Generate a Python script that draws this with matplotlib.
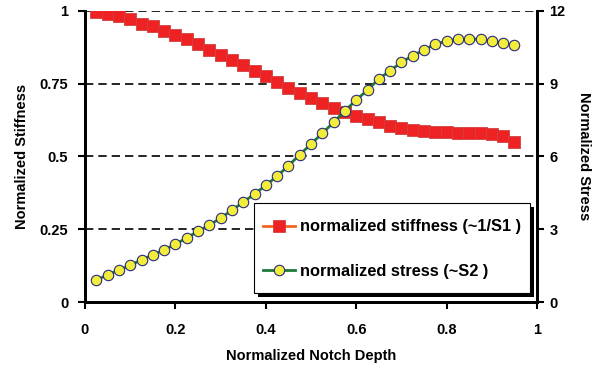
import matplotlib
matplotlib.use("Agg")
import matplotlib.pyplot as plt
from matplotlib.patches import Rectangle

plt.rcParams['font.family'] = ['Liberation Sans', 'DejaVu Sans']
plt.rcParams['font.weight'] = 'bold'

depth = [0.025 * (i + 1) for i in range(38)]
stiffness = [0.995, 0.989, 0.982, 0.970, 0.955, 0.946, 0.931, 0.917, 0.902, 0.885,
             0.865, 0.848, 0.831, 0.813, 0.794, 0.776, 0.756, 0.736, 0.719, 0.700,
             0.684, 0.667, 0.653, 0.640, 0.628, 0.617, 0.605, 0.598, 0.592, 0.587,
             0.584, 0.584, 0.580, 0.580, 0.581, 0.578, 0.570, 0.548]
stress = [0.91, 1.11, 1.32, 1.51, 1.74, 1.94, 2.15, 2.38, 2.64, 2.91,
          3.16, 3.46, 3.78, 4.11, 4.45, 4.81, 5.18, 5.62, 6.06, 6.51,
          6.95, 7.40, 7.88, 8.32, 8.73, 9.19, 9.53, 9.87, 10.15, 10.38,
          10.63, 10.74, 10.83, 10.83, 10.83, 10.74, 10.66, 10.57]

xticks = [0, 0.2, 0.4, 0.6, 0.8, 1]
xticklabels = ['0', '0.2', '0.4', '0.6', '0.8', '1']
lticks = [0, 0.25, 0.5, 0.75, 1]
lticklabels = ['0', '0.25', '0.5', '0.75', '1']
rticks = [0, 3, 6, 9, 12]
rticklabels = ['0', '3', '6', '9', '12']

W, H = 597, 372
fig = plt.figure(figsize=(W/100, H/100), dpi=100)
ax = fig.add_axes([85/W, 1-302/H, (537-85)/W, (302-10.7)/H])
ax2 = ax.twinx()

for y in lticks[1:]:
    ax.axhline(y, color='black', lw=1.2, ls=(0, (5, 3)), zorder=1)

l1, = ax.plot(depth, stiffness, color='#F26522', lw=2, marker='s', ms=8,
              mfc='#EE2222', mec='#D04040', mew=0.6, label='normalized stiffness (~1/S1 )', zorder=3)
l2, = ax2.plot(depth, stress, color='#1A7A3A', lw=2, marker='o', ms=7.5,
               mfc='#F2EC3A', mec='#2A2A80', mew=0.8, label='normalized stress (~S2 )', zorder=3)

ax.set_xlim(0, 1)
ax.set_ylim(0, 1)
ax2.set_ylim(0, 12)
ax.set_xticks(xticks)
ax.set_xticklabels(xticklabels)
ax.set_yticks(lticks)
ax.set_yticklabels(lticklabels)
ax2.set_yticks(rticks)
ax2.set_yticklabels(rticklabels)

for a in (ax, ax2):
    a.spines['top'].set_visible(False)
    for s in a.spines.values():
        s.set_linewidth(2)
    a.tick_params(direction='out', width=1.5, length=5, labelsize=10.5)
ax.tick_params(axis='x', pad=10)
ax.tick_params(axis='y', pad=7)
ax2.tick_params(axis='y', pad=4)

ax.set_xlabel('Normalized Notch Depth', fontsize=10.5, fontweight='bold', labelpad=9)
ax.set_ylabel('Normalized Stiffness', fontsize=10.5, fontweight='bold', labelpad=8)
ax2.set_ylabel('Normalized Stress', fontsize=10.5, fontweight='bold', rotation=270, labelpad=18)

# legend box with solid black drop shadow
bx0, by0, bx1, by1 = 254, 203, 530, 293
shadow = Rectangle(((bx0 + 4)/W, 1 - (by1 + 3.5)/H), (bx1 - bx0)/W, (by1 - by0)/H,
                   transform=fig.transFigure, facecolor='black', edgecolor='none', zorder=5)
frame = Rectangle((bx0/W, 1 - by1/H), (bx1 - bx0)/W, (by1 - by0)/H,
                  transform=fig.transFigure, facecolor='white', edgecolor='black',
                  lw=0.8, zorder=5.5)
fig.add_artist(shadow)
fig.add_artist(frame)

leg = fig.legend(handles=[l1, l2], loc='center left',
                 bbox_to_anchor=(263/W, 1 - 249/H), bbox_transform=fig.transFigure,
                 borderaxespad=0, borderpad=0, frameon=False,
                 fontsize=11.8, labelspacing=1.78,
                 handlelength=1.95, handletextpad=0.3)
leg.set_zorder(6)
for t in leg.get_texts():
    t.set_fontweight('bold')

fig.savefig('out.png', dpi=100)
